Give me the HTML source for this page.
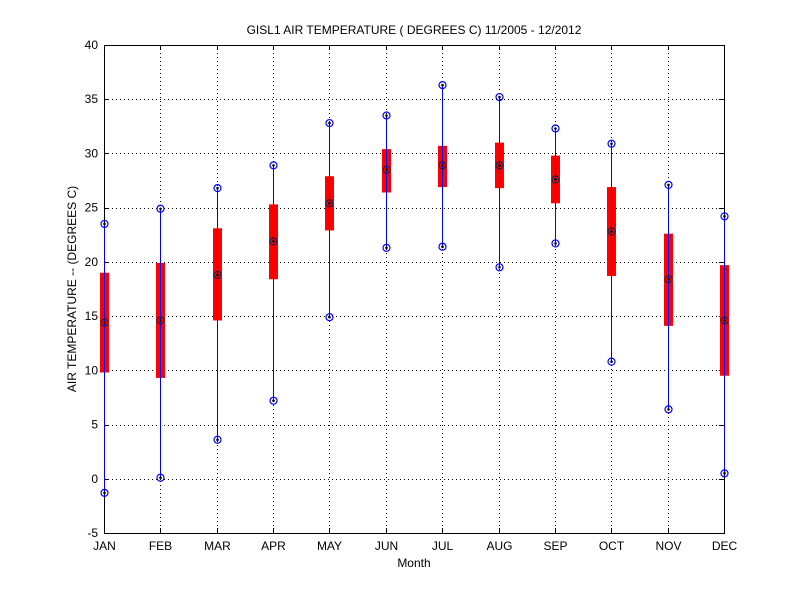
<!DOCTYPE html>
<html><head><meta charset="utf-8"><style>
body{margin:0;background:#fff;}
svg text{font-family:"Liberation Sans",sans-serif;font-size:12px;fill:#000;}
</style></head><body>
<svg id="chart" width="800" height="600" xmlns="http://www.w3.org/2000/svg">
<rect x="0" y="0" width="800" height="600" fill="#fff"/>
<text x="414" y="34" text-anchor="middle">GISL1  AIR TEMPERATURE ( DEGREES C) 11/2005 - 12/2012</text>
<text x="414" y="567" text-anchor="middle">Month</text>
<text transform="translate(76,289) rotate(-90)" text-anchor="middle">AIR TEMPERATURE -- (DEGREES C)</text>
<g id="grid"></g><g id="axes"></g><g id="marks"></g>
</svg>
<script>
const months=["JAN","FEB","MAR","APR","MAY","JUN","JUL","AUG","SEP","OCT","NOV","DEC"];
const maxVals=[23.5,24.9,26.8,28.9,32.8,33.5,36.3,35.2,32.3,30.9,27.1,24.2];
const minVals=[-1.3,0.1,3.6,7.2,14.9,21.3,21.4,19.5,21.7,10.8,6.4,0.5];
const q1Vals=[9.8,9.3,14.6,18.4,22.9,26.4,26.9,26.8,25.4,18.7,14.1,9.5];
const q3Vals=[19.0,19.9,23.1,25.3,27.9,30.4,30.7,31.0,29.8,26.9,22.6,19.7];
const medVals=[14.4,14.6,18.8,21.9,25.4,28.5,28.9,28.9,27.6,22.8,18.4,14.6];
const yTicks=[-5,0,5,10,15,20,25,30,35,40];
const L=104,R=724,T=45,B=533;
const xs=i=>Math.round(L+(R-L)*i/11)+0.5;
const ys=v=>T+(40-v)*(B-T)/45;
const NS="http://www.w3.org/2000/svg";
function mk(parent,tag,attrs){const e=document.createElementNS(NS,tag);for(const k in attrs)e.setAttribute(k,attrs[k]);document.getElementById(parent).appendChild(e);return e;}
yTicks.forEach(v=>{if(v>-5&&v<40){const yy=Math.round(ys(v))+0.5;const g=mk('grid','line',{x1:L,x2:R,y1:yy,y2:yy,stroke:'#000','stroke-dasharray':'1,3','stroke-width':1});

}});
months.forEach((m,i)=>{if(i>0&&i<11){const g=mk('grid','line',{x1:xs(i),x2:xs(i),y1:T,y2:B,stroke:'#000','stroke-dasharray':'1,3','stroke-width':1});

}});
const fr=mk('axes','rect',{x:L+0.5,y:T+0.5,width:R-L,height:B-T,fill:'none',stroke:'#000','stroke-width':1});


yTicks.forEach(v=>{
const yy=Math.round(ys(v))+0.5;
mk('axes','line',{x1:L,x2:L+5,y1:yy,y2:yy,stroke:'#000'});
mk('axes','line',{x1:R,x2:R-5,y1:yy,y2:yy,stroke:'#000'});
const t=mk('axes','text',{x:L-6,y:ys(v)+4,'text-anchor':'end'});t.textContent=v;


});
months.forEach((m,i)=>{
mk('axes','line',{x1:xs(i),x2:xs(i),y1:B,y2:B-5,stroke:'#000'});
mk('axes','line',{x1:xs(i),x2:xs(i),y1:T,y2:T+5,stroke:'#000'});
const t=mk('axes','text',{x:xs(i),y:B+17,'text-anchor':'middle'});t.textContent=m;


});
months.forEach((m,i)=>{
const x=xs(i);
const box=mk('marks','rect',{x:x-4.5,y:ys(q3Vals[i]),width:9,height:ys(q1Vals[i])-ys(q3Vals[i]),fill:'#f00'});


const wh=mk('marks','line',{x1:x,x2:x,y1:ys(maxVals[i]),y2:ys(minVals[i]),stroke:'#0000ff','stroke-width':1});


[[maxVals[i],'#00f','max'],[minVals[i],'#00f','min'],[medVals[i],'#202050','median']].forEach(([v,c,n])=>{
const c1=mk('marks','circle',{cx:x,cy:ys(v),r:3.5,fill:'none',stroke:c,'stroke-width':1.2});


mk('marks','circle',{cx:x,cy:ys(v),r:1.3,fill:'#000'});
});
});
</script>
</body></html>
